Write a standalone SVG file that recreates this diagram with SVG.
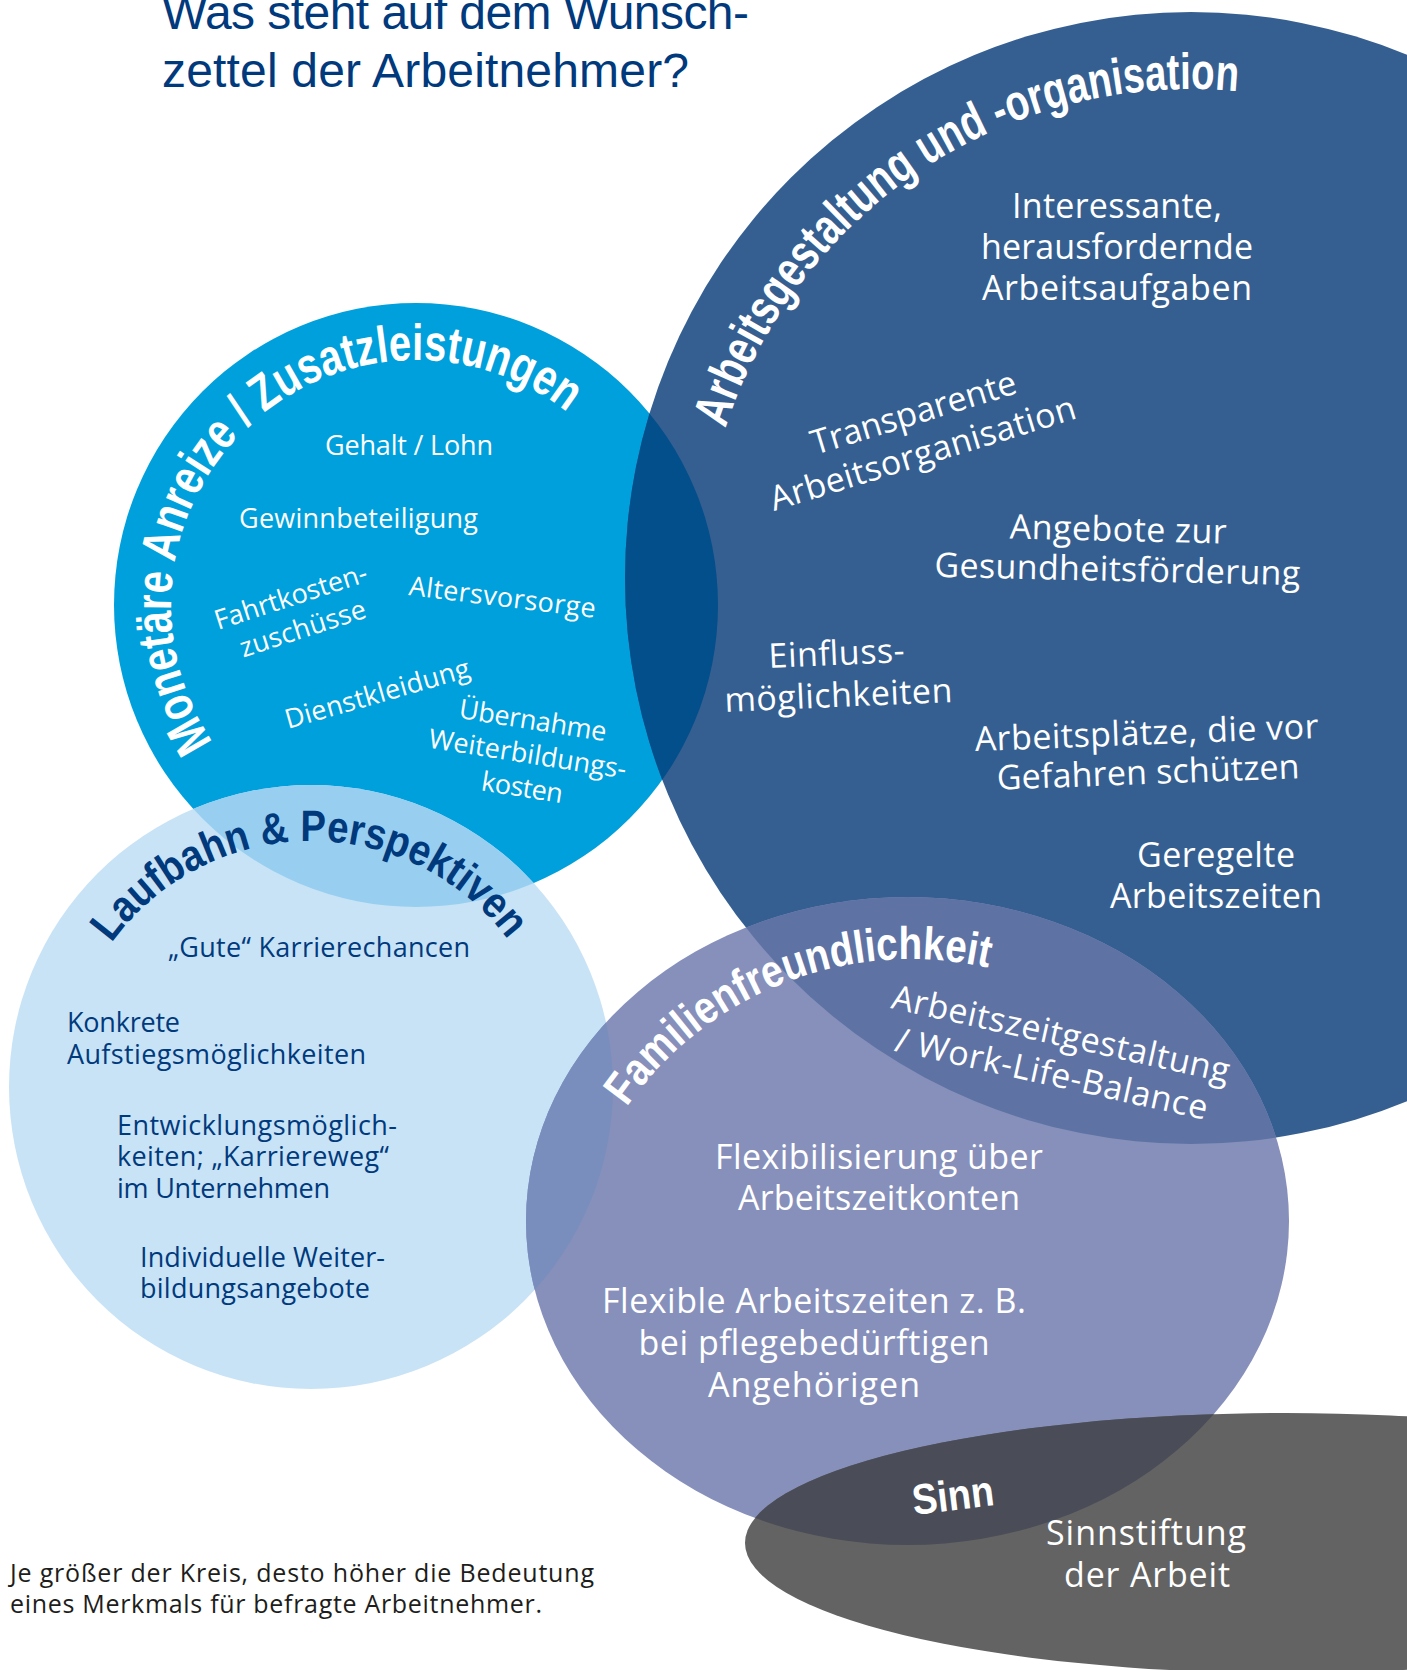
<svg xmlns="http://www.w3.org/2000/svg" xmlns:xlink="http://www.w3.org/1999/xlink" width="1407" height="1670" viewBox="0 0 1407 1670">
<style>
  .b { font-family: "Open Sans", "Noto Sans", "Liberation Sans", sans-serif; }
  .h { font-family: "Liberation Sans", Arial, sans-serif; font-weight: 700; }
  .w { fill: #ffffff; }
  .n { fill: #003a7d; }
  .m { text-anchor: middle; }
</style>
<defs>
  <clipPath id="cMon"><circle cx="416" cy="605" r="302"/></clipPath>
  <clipPath id="cDark"><circle cx="1191" cy="578" r="566"/></clipPath>
  <clipPath id="cLauf"><circle cx="311" cy="1087" r="302"/></clipPath>
  <clipPath id="cFam"><ellipse cx="907.5" cy="1221" rx="381.5" ry="324"/></clipPath>
  <path id="pMon" d="M 212.9 742 A 245 245 0 1 1 657.3 562.5" fill="none"/>
  <path id="pArb" d="M 725.4 428.5 A 489 489 0 0 1 1565.6 263.7" fill="none"/>
  <path id="pLauf" d="M 111.5 943.1 A 246 246 0 0 1 542.2 1002.9" fill="none"/>
  <path id="pFam" d="M 626.7 1107 A 347 347 0 0 1 1176.8 1083" fill="none"/>
</defs>
<rect width="1407" height="1670" fill="#ffffff"/>

<g id="title" class="n" style="font-family:'Liberation Sans',Arial,sans-serif" font-size="48">
  <text x="162" y="29" textLength="587">Was steht auf dem Wunsch-</text>
  <text x="162" y="87" textLength="527">zettel der Arbeitnehmer?</text>
</g>

<g id="node-monetaere">
  <circle cx="416" cy="605" r="302" fill="#00a0dc"/>
  <text class="h w" font-size="51"><textPath href="#pMon" xlink:href="#pMon" textLength="693" lengthAdjust="spacingAndGlyphs">Monetäre Anreize / Zusatzleistungen</textPath></text>
  <g class="b w" font-size="27">
    <text x="325" y="455" textLength="168">Gehalt / Lohn</text>
    <text x="239" y="528" textLength="239">Gewinnbeteiligung</text>
    <g transform="translate(218 630) rotate(-18)">
      <text x="0" y="0" textLength="159">Fahrtkosten-</text>
      <text x="15.5" y="34" textLength="131">zuschüsse</text>
    </g>
    <text transform="translate(408 595) rotate(7)" textLength="188">Altersvorsorge</text>
    <text transform="translate(288 729) rotate(-16)" textLength="191">Dienstkleidung</text>
    <g transform="translate(531.5 729.5) rotate(9)" class="m">
      <text x="0" y="0" textLength="149">Übernahme</text>
      <text x="0" y="34" textLength="200">Weiterbildungs-</text>
      <text x="0" y="68" textLength="82">kosten</text>
    </g>
  </g>
</g>

<g id="node-arbeitsgestaltung">
  <circle cx="1191" cy="578" r="566" fill="#365f91"/>
  <circle cx="416" cy="605" r="302" fill="#034f8b" clip-path="url(#cDark)"/>
  <text class="h w" font-size="51"><textPath href="#pArb" xlink:href="#pArb" textLength="663" lengthAdjust="spacingAndGlyphs">Arbeitsgestaltung und -organisation</textPath></text>
  <g class="b w" font-size="34">
    <text class="m" x="1117" y="218" textLength="210">Interessante,</text>
    <text class="m" x="1117" y="259" textLength="272">herausfordernde</text>
    <text class="m" x="1117" y="300" textLength="270">Arbeitsaufgaben</text>
    <g transform="translate(774 511) rotate(-17)">
      <text x="55.6" y="-41.5" textLength="213">Transparente</text>
      <text x="0" y="0" textLength="318">Arbeitsorganisation</text>
    </g>
    <g transform="translate(1118 541) rotate(1.3)" class="m">
      <text x="0" y="0" textLength="217">Angebote zur</text>
      <text x="0" y="40" textLength="366">Gesundheitsförderung</text>
    </g>
    <g transform="translate(837 665) rotate(-2.5)" class="m">
      <text x="0" y="0" textLength="136">Einfluss-</text>
      <text x="0" y="42" textLength="228">möglichkeiten</text>
    </g>
    <g transform="translate(1147 744.5) rotate(-2.2)" class="m">
      <text x="0" y="0" textLength="344">Arbeitsplätze, die vor</text>
      <text x="0" y="39.5" textLength="303">Gefahren schützen</text>
    </g>
    <text class="m" x="1216" y="867" textLength="158">Geregelte</text>
    <text class="m" x="1216" y="908" textLength="212">Arbeitszeiten</text>
  </g>
</g>

<g id="node-laufbahn">
  <circle cx="311" cy="1087" r="302" fill="#c9e3f6"/>
  <circle cx="311" cy="1087" r="302" fill="#98cff0" clip-path="url(#cMon)"/>
  <text class="h n" font-size="44"><textPath href="#pLauf" xlink:href="#pLauf" textLength="461" lengthAdjust="spacingAndGlyphs">Laufbahn &amp; Perspektiven</textPath></text>
  <g class="b n" font-size="27">
    <text x="168" y="957" textLength="302">„Gute“ Karrierechancen</text>
    <text x="67" y="1032" textLength="113">Konkrete</text>
    <text x="67" y="1064" textLength="299">Aufstiegsmöglichkeiten</text>
    <text x="117" y="1135" textLength="280">Entwicklungsmöglich-</text>
    <text x="117" y="1166" textLength="272">keiten; „Karriereweg“</text>
    <text x="117" y="1198" textLength="213">im Unternehmen</text>
    <text x="140" y="1267" textLength="245">Individuelle Weiter-</text>
    <text x="140" y="1298" textLength="230">bildungsangebote</text>
  </g>
</g>

<g id="node-familie">
  <ellipse cx="907.5" cy="1221" rx="381.5" ry="324" fill="#8690bb"/>
  <ellipse cx="907.5" cy="1221" rx="381.5" ry="324" fill="#5e73a4" clip-path="url(#cDark)"/>
  <ellipse cx="907.5" cy="1221" rx="381.5" ry="324" fill="#7a8ebd" clip-path="url(#cLauf)"/>
  <text class="h w" font-size="46"><textPath href="#pFam" xlink:href="#pFam" textLength="411" lengthAdjust="spacingAndGlyphs">Familienfreundlichkeit</textPath></text>
  <g class="b w" font-size="34">
    <g transform="translate(890 1008) rotate(12.5)">
      <text x="0" y="0" textLength="345">Arbeitszeitgestaltung</text>
      <text x="12.6" y="41" textLength="319">/ Work-Life-Balance</text>
    </g>
    <text class="m" x="879" y="1169" textLength="328">Flexibilisierung über</text>
    <text class="m" x="879" y="1210" textLength="282">Arbeitszeitkonten</text>
    <text class="m" x="814" y="1313" textLength="424">Flexible Arbeitszeiten z. B.</text>
    <text class="m" x="814" y="1355" textLength="351">bei pflegebedürftigen</text>
    <text class="m" x="814" y="1397" textLength="212">Angehörigen</text>
  </g>
</g>

<g id="node-sinn">
  <ellipse cx="1285" cy="1543" rx="540" ry="130" fill="#636363"/>
  <ellipse cx="1285" cy="1543" rx="540" ry="130" fill="#4a4d58" clip-path="url(#cFam)"/>
  <text class="h w" font-size="43" transform="translate(914 1515) rotate(-7)" textLength="82" lengthAdjust="spacingAndGlyphs">Sinn</text>
  <g class="b w" font-size="34">
    <text class="m" x="1146" y="1545" textLength="200">Sinnstiftung</text>
    <text class="m" x="1147" y="1587" textLength="166">der Arbeit</text>
  </g>
</g>

<g id="connectors"></g>

<g id="legend" class="b" fill="#1d1d1b" font-size="25">
  <text x="10" y="1582" textLength="584">Je größer der Kreis, desto höher die Bedeutung</text>
  <text x="10" y="1613" textLength="532">eines Merkmals für befragte Arbeitnehmer.</text>
</g>
</svg>
